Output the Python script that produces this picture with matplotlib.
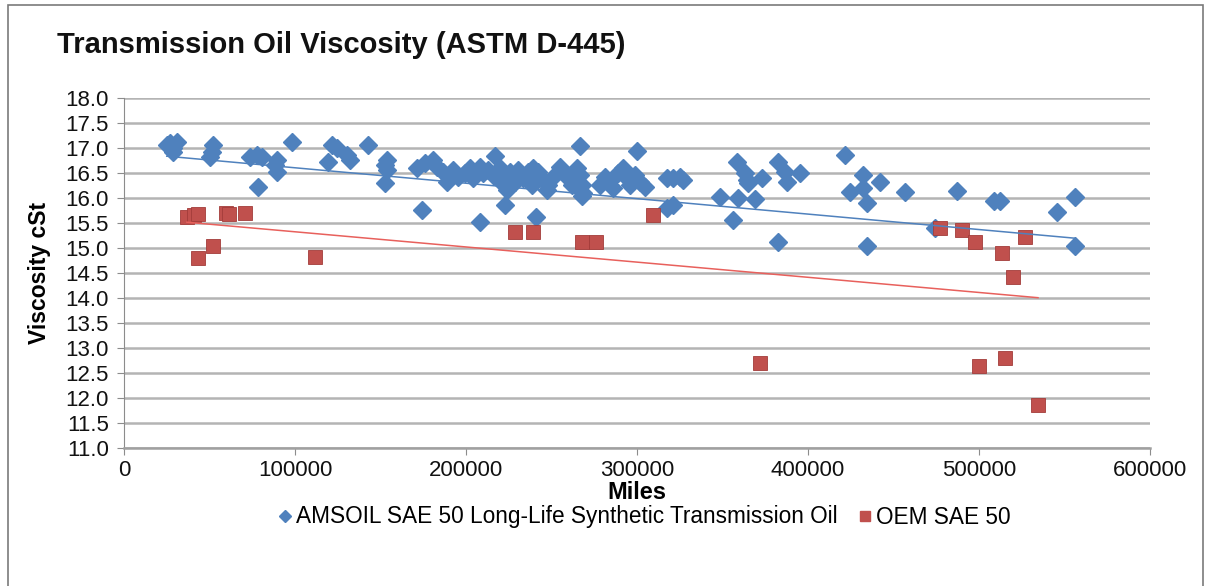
import numpy as np
import matplotlib
matplotlib.use('Agg')
import matplotlib.pyplot as plt
from matplotlib.patches import Rectangle
from matplotlib.lines import Line2D

plt.rcParams['font.family'] = ['Liberation Sans', 'DejaVu Sans']

# AMSOIL SAE 50 (millas, viscosidad cSt)
amsoil_miles = [25000, 26900, 28800, 30800, 28800, 52200, 51200, 50300, 73700, 77600,
                80500, 78500, 89300, 88300, 89300, 98100, 121500, 124400, 119400, 130200,
                132200, 142900, 153600, 152600, 153600, 152600,
                171200, 176000, 180900, 182800, 186700, 188700, 192600, 195500, 199400, 202300,
                204300, 208200, 210100, 213000, 216000, 219900, 220900, 223800, 225700, 228600,
                230600, 233500, 236400, 238400, 241300, 174300, 217000, 222800, 208000,
                239400, 242300, 245200, 248100, 247200, 252000, 255000, 256900, 259800, 261800,
                264700, 266700, 267600, 268600, 278400, 281300, 283200, 286100, 289100, 292000,
                293900, 295900, 298800, 301700, 304700, 266700, 299800, 241000, 268000,
                317400, 321000, 325000, 327000, 317500, 321000, 348500, 358500, 359000, 369000,
                356000, 363000, 364300, 365000, 373000, 382500, 386500, 387700, 395300, 382500,
                421600, 424500, 432000, 432000, 442000, 434500, 434500, 456700, 474000, 487000,
                509000, 512000, 545600, 556100, 556100]
amsoil_visc = [17.05, 17.09, 16.99, 17.12, 16.92, 17.05, 16.92, 16.82, 16.82, 16.85,
               16.82, 16.22, 16.75, 16.65, 16.52, 17.12, 17.05, 16.99, 16.72, 16.85,
               16.75, 17.05, 16.75, 16.65, 16.55, 16.29,
               16.59, 16.69, 16.75, 16.62, 16.52, 16.32, 16.55, 16.42, 16.49, 16.59,
               16.39, 16.62, 16.49, 16.55, 16.45, 16.59, 16.29, 16.15, 16.52, 16.32,
               16.55, 16.39, 16.52, 16.25, 16.42, 15.75, 16.84, 15.86, 15.51,
               16.59, 16.52, 16.35, 16.25, 16.15, 16.45, 16.62, 16.52, 16.39, 16.25,
               16.59, 16.45, 16.25, 16.09, 16.25, 16.42, 16.32, 16.19, 16.49, 16.59,
               16.39, 16.25, 16.45, 16.32, 16.22, 17.04, 16.93, 15.62, 16.03,
               16.39, 16.40, 16.42, 16.35, 15.80, 15.85, 16.01, 16.72, 16.00, 15.98,
               15.55, 16.49, 16.35, 16.29, 16.39, 16.72, 16.51, 16.31, 16.49, 15.11,
               16.85, 16.11, 16.45, 16.20, 16.32, 15.89, 15.03, 16.11, 15.40, 16.13,
               15.93, 15.93, 15.72, 16.01, 15.03]

# OEM SAE 50
oem_miles = [36800, 41000, 43300, 43300, 52000, 59500, 61500, 70800, 111700, 228600,
             239200, 268000, 276000, 309400, 372000, 477200, 490000, 497700, 500000, 513500,
             515200, 520000, 527000, 534500]
oem_visc = [15.62, 15.65, 15.67, 14.79, 15.03, 15.70, 15.68, 15.69, 14.81, 15.31,
            15.31, 15.11, 15.11, 15.65, 12.70, 15.39, 15.35, 15.11, 12.63, 14.89,
            12.79, 14.41, 15.21, 11.85]

# lineas de tendencia (extremos)
amsoil_trend_miles = [25000, 556100]
amsoil_trend_visc = [16.83, 15.19]
oem_trend_miles = [36800, 534500]
oem_trend_visc = [15.51, 14.0]

azul = '#4F81BD'
rojo = '#C0504D'

fig = plt.figure(figsize=(12.12, 5.86), dpi=100)
ax = fig.add_axes([124 / 1212, 1 - 447.7 / 586, (1150 - 124) / 1212, 350 / 586])

ax.plot(amsoil_miles, amsoil_visc, linestyle='none', marker='D', markersize=9,
        color=azul, markeredgecolor=azul, zorder=3)
ax.plot(oem_miles, oem_visc, linestyle='none', marker='s', markersize=10,
        color=rojo, markeredgecolor='#a33c3a', markeredgewidth=0.6, zorder=4)

ax.plot(amsoil_trend_miles, amsoil_trend_visc, color=azul, linewidth=1.1, zorder=5)
ax.plot(oem_trend_miles, oem_trend_visc, color='#e8605c', linewidth=1.1, zorder=5)

ax.set_xlim(0, 600000)
ax.set_ylim(11, 18)
ax.set_xticks(np.arange(0, 600001, 100000))
ax.set_xticklabels([str(v) for v in range(0, 600001, 100000)])
ax.set_yticks(np.arange(11, 18.01, 0.5))
ax.set_yticklabels([f'{v:.1f}' for v in np.arange(11, 18.01, 0.5)])
ax.yaxis.grid(True, color='#b4b4b4', linewidth=1.8)
ax.set_axisbelow(True)
for s in ['top', 'right']:
    ax.spines[s].set_visible(False)
ax.spines['left'].set_color('#8c8c8c')
ax.spines['bottom'].set_color('#a0a0a0')
ax.spines['bottom'].set_linewidth(1.8)
ax.tick_params(axis='both', colors='#8c8c8c', labelcolor='#111111', labelsize=16, length=5)
ax.tick_params(axis='y', pad=6)
ax.tick_params(axis='x', pad=4)

ax.set_xlabel('Miles', fontsize=17, fontweight='bold', labelpad=0)
ax.set_ylabel('Viscosity cSt', fontsize=16.5, fontweight='bold', labelpad=10)

fig.text(57 / 1212, 1 - 45 / 586, 'Transmission Oil Viscosity (ASTM D-445)',
         fontsize=21, fontweight='bold', va='center', ha='left', color='#111111')

handles = [Line2D([], [], linestyle='none', marker='D', markersize=6, color=azul),
           Line2D([], [], linestyle='none', marker='s', markersize=7, color=rojo)]
fig.legend(handles, ['AMSOIL SAE 50 Long-Life Synthetic Transmission Oil', 'OEM SAE 50'],
           loc='center', bbox_to_anchor=(642 / 1212, 1 - 517 / 586), ncol=2, frameon=False,
           fontsize=16.3, handletextpad=0.0, columnspacing=0.7, handlelength=1)

fig.patches.append(Rectangle((8 / 1212, -0.02), 1195 / 1212, 1.02 - 5 / 586,
                             transform=fig.transFigure, fill=False,
                             edgecolor='#7a7a7a', linewidth=1.2))

fig.savefig('out.png', dpi=100)
